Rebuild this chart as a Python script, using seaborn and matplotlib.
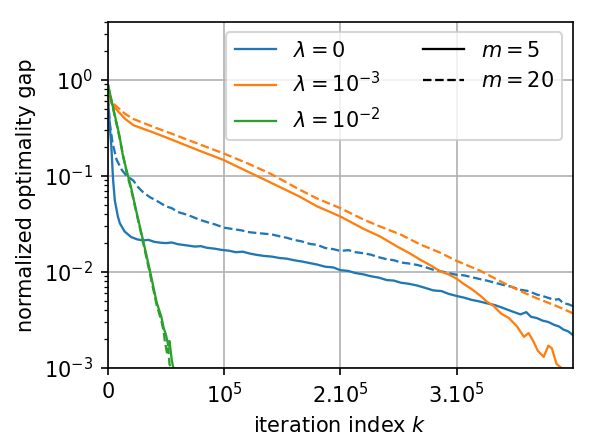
import numpy as np
import pandas as pd
import matplotlib
matplotlib.use("Agg")
import matplotlib.pyplot as plt
import seaborn as sns
from matplotlib.lines import Line2D

# ─── Data (iterations in thousands, gap values) ──────────────────────────────
k_blue_m5 = [0, 1.5, 3, 4.5, 6, 8.6, 10.3, 14.4, 20, 25, 30, 35, 40, 45, 50,
             55, 60, 67, 75, 80, 85, 92, 98, 104, 110, 116, 122, 128, 135,
             141, 148, 154, 160, 167, 174, 180, 187, 194, 200, 207, 213, 220,
             226, 233, 240, 246, 252, 259, 266, 273, 280, 287, 293, 300, 306,
             313, 320, 326, 333, 340, 347, 355, 360, 364, 369, 374, 379, 384,
             388, 392, 396, 400]
gap_blue_m5 = [0.65, 0.35, 0.2, 0.09, 0.055, 0.0377, 0.032, 0.0263, 0.023,
               0.0218, 0.0212, 0.0215, 0.0205, 0.0201, 0.0199, 0.0202, 0.0194,
               0.0189, 0.0183, 0.0185, 0.0178, 0.0174, 0.0169, 0.0166, 0.016,
               0.0162, 0.0155, 0.015, 0.0146, 0.0144, 0.0139, 0.0137, 0.0132,
               0.0128, 0.0123, 0.0119, 0.0113, 0.0111, 0.0104, 0.0102, 0.0097,
               0.0094, 0.009, 0.0087, 0.0082, 0.0081, 0.0077, 0.0075, 0.0072,
               0.0068, 0.0064, 0.0063, 0.0059, 0.0056, 0.0054, 0.0051, 0.0049,
               0.0047, 0.0045, 0.0042, 0.0039, 0.0036, 0.0038, 0.0034, 0.0033,
               0.0031, 0.003, 0.0028, 0.0027, 0.0025, 0.0024, 0.0022]

k_blue_m20 = [0, 1.7, 4, 7.5, 12, 16, 22, 26, 30, 36, 43, 50, 55, 60, 66, 72,
              78, 85, 92, 100, 108, 115, 122, 129, 135, 141, 148, 154, 160,
              167, 174, 180, 187, 194, 200, 207, 213, 220, 226, 233, 240, 246,
              252, 259, 266, 273, 280, 287, 293, 300, 306, 313, 320, 326, 333,
              340, 347, 355, 362, 369, 376, 384, 388, 392, 396, 400]
gap_blue_m20 = [0.65, 0.35, 0.22, 0.147, 0.115, 0.1, 0.089, 0.076, 0.068,
                0.06, 0.054, 0.048, 0.046, 0.042, 0.04, 0.0377, 0.0352, 0.033,
                0.0312, 0.0288, 0.0278, 0.027, 0.0258, 0.0253, 0.0249, 0.0245,
                0.0234, 0.0226, 0.0215, 0.0207, 0.0195, 0.0191, 0.0177, 0.0172,
                0.0165, 0.0168, 0.016, 0.0156, 0.0151, 0.0142, 0.0135, 0.0132,
                0.0125, 0.0122, 0.0118, 0.0112, 0.0105, 0.0101, 0.0097, 0.0093,
                0.0092, 0.0088, 0.0084, 0.0081, 0.0077, 0.0073, 0.007, 0.0065,
                0.0063, 0.0058, 0.0055, 0.0051, 0.0052, 0.0047, 0.0046, 0.0044]

k_orange_m5 = [0, 2, 5, 8, 15, 22, 40, 60, 80, 99, 120, 140, 165, 180, 200,
               220, 234, 249, 260, 269, 278, 286, 293, 300, 306, 313, 320, 326,
               332, 338, 345, 352, 358, 362, 366, 370, 375, 379, 382, 386, 390,
               393]
gap_orange_m5 = [0.72, 0.6, 0.53, 0.48, 0.39, 0.336, 0.28, 0.225, 0.18, 0.147,
                 0.111, 0.085, 0.0607, 0.048, 0.0377, 0.028, 0.0234, 0.0183,
                 0.0155, 0.0133, 0.0116, 0.0101, 0.0094, 0.0085, 0.0075, 0.0066,
                 0.0057, 0.0049, 0.0044, 0.0037, 0.0033, 0.0027, 0.0021, 0.0023,
                 0.0019, 0.0015, 0.0013, 0.0017, 0.0016, 0.0011, 0.001, 0.0009]

k_orange_m20 = [0, 2, 5, 8, 15, 22, 40, 60, 80, 99, 120, 140, 165, 180, 200,
                220, 234, 252, 269, 285, 300, 320, 341, 355, 369, 384, 392, 400]
gap_orange_m20 = [0.72, 0.62, 0.56, 0.52, 0.44, 0.39, 0.32, 0.26, 0.21, 0.172,
                  0.135, 0.105, 0.0717, 0.058, 0.046, 0.035, 0.0297, 0.0244,
                  0.0192, 0.016, 0.013, 0.0103, 0.0076, 0.0063, 0.0053, 0.0045,
                  0.0041, 0.0037]

k_green_m5 = [0, 5, 10, 13, 16, 20, 25, 30, 36, 42, 46, 48, 50, 52, 53, 55,
              57]
gap_green_m5 = [0.9, 0.48, 0.26, 0.16, 0.115, 0.075, 0.04, 0.022, 0.0105,
                0.0048, 0.0034, 0.0026, 0.0022, 0.0017, 0.0019, 0.0012, 0.0009]

k_green_m20 = [0, 5, 10, 16, 20, 25, 30, 36, 42, 46, 48, 49, 51, 52, 53, 55]
gap_green_m20 = [0.9, 0.47, 0.25, 0.11, 0.072, 0.039, 0.021, 0.0098, 0.0045,
                 0.0031, 0.0024, 0.0019, 0.0014, 0.0016, 0.0011, 0.0009]

LAMBDAS = ["0", "1e-3", "1e-2"]
LAMBDA_LABELS = [r"$\lambda = 0$", r"$\lambda = 10^{-3}$", r"$\lambda = 10^{-2}$"]
COLORS = ["#1f77b4", "#ff7f0e", "#2ca02c"]
X_TICKS = [0, 1e5, 2e5, 3e5]
X_TICK_LABELS = ["0", r"$10^5$", r"$2.10^5$", r"$3.10^5$"]

# ─── Build a long frame for seaborn ───────────────────────────────────────────
curves = [
    ("0", 5, k_blue_m5, gap_blue_m5),
    ("0", 20, k_blue_m20, gap_blue_m20),
    ("1e-3", 5, k_orange_m5, gap_orange_m5),
    ("1e-3", 20, k_orange_m20, gap_orange_m20),
    ("1e-2", 5, k_green_m5, gap_green_m5),
    ("1e-2", 20, k_green_m20, gap_green_m20),
]
frames = []
for lam, m, ks, gaps in curves:
    frames.append(pd.DataFrame({
        "k": np.array(ks) * 1000.0,
        "gap": gaps,
        "lam": lam,
        "m": m,
    }))
df = pd.concat(frames, ignore_index=True)

# ─── Plot ─────────────────────────────────────────────────────────────────────
plt.rcParams.update({"font.size": 10, "font.family": "DejaVu Sans",
                     "mathtext.fontset": "dejavusans"})

LW = 1.1
fig, ax = plt.subplots(figsize=(596 / 150, 448 / 150), dpi=150)
fig.subplots_adjust(left=0.181, right=0.961, top=0.951, bottom=0.179)

for lam, color in zip(LAMBDAS, COLORS):
    for m, ls in [(5, "-"), (20, "--")]:
        sub = df[(df["lam"] == lam) & (df["m"] == m)]
        sns.lineplot(data=sub, x="k", y="gap", color=color, lw=LW,
                     linestyle=ls, ax=ax, legend=False, estimator=None,
                     sort=False)

ax.set_yscale("log")
ax.set_ylim(1e-3, 4)
ax.set_xlim(0, 4e5)
ax.set_xticks(X_TICKS)
ax.set_xticklabels(X_TICK_LABELS)
ax.grid(True, which="major", color="#b0b0b0", lw=0.8)
ax.set_xlabel(r"iteration index $k$")
ax.set_ylabel("normalized optimality gap")

handles = [Line2D([0], [0], color=c, lw=LW) for c in COLORS]
handles += [Line2D([0], [0], color="k", lw=LW),
            Line2D([0], [0], color="k", lw=LW, linestyle="--")]
labels = LAMBDA_LABELS + [r"$m = 5$", r"$m = 20$"]
ax.legend(handles, labels, loc="upper right", ncol=2)

fig.savefig("out.png", dpi=150)
